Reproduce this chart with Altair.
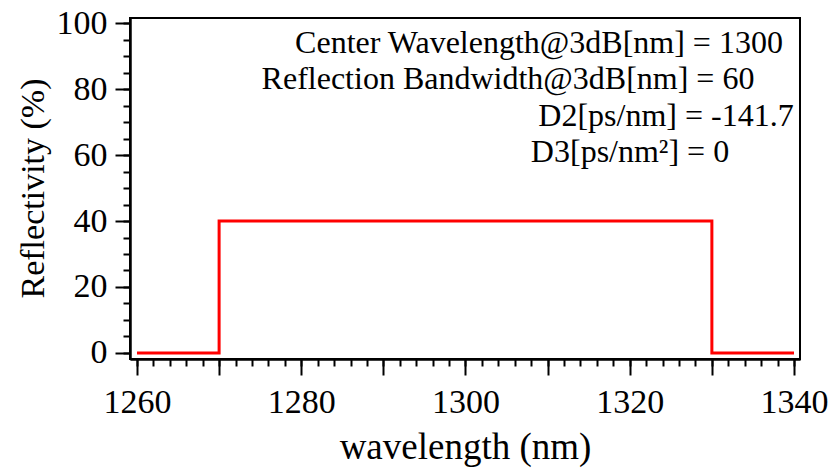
import altair as alt
import pandas as pd

# ---- data ----
wavelength = [1260, 1270, 1270, 1330, 1330, 1340]
reflectivity = [0, 0, 40, 40, 0, 0]

x_major_ticks = [1260, 1270, 1280, 1290, 1300, 1310, 1320, 1330, 1340]
x_minor_ticks = list(range(1260, 1341, 2))
y_major_ticks = [0, 20, 40, 60, 80, 100]
y_minor_ticks = list(range(0, 101, 5))

x_domain = [1259.15, 1340.73]
y_domain = [-1.82, 101.52]

annotation_lines = [
    "Center Wavelength@3dB[nm] = 1300",
    "Reflection Bandwidth@3dB[nm] = 60",
    "D2[ps/nm] = -141.7",
    "D3[ps/nm²] = 0",
]
annotation_x = [409, 378, 536, 500]      # pixel centre of each line in plot
annotation_y = [35, 71, 108, 144]        # pixel baseline of each line in plot

FONT = "Liberation Serif"

df = pd.DataFrame({"wavelength": wavelength,
                   "reflectivity": reflectivity,
                   "idx": list(range(len(wavelength)))})

xscale = alt.Scale(domain=x_domain, nice=False, zero=False)
yscale = alt.Scale(domain=y_domain, nice=False, zero=False)

common_axis = dict(domainColor="black", domainWidth=2, tickColor="black", tickWidth=2,
                   labelColor="black", titleColor="black", grid=False)

main = alt.Chart(df).mark_line(color="#ff0000", strokeWidth=3, strokeJoin="miter").encode(
    x=alt.X("wavelength:Q", scale=xscale,
            axis=alt.Axis(values=x_major_ticks, orient="bottom",
                          labelExpr="datum.value % 20 == 0 ? datum.label : ''",
                          format="d", tickSize=16, labelPadding=10,
                          labelFontSize=34, labelFont=FONT,
                          title="wavelength (nm)", titleFontSize=37, titleFont=FONT,
                          titleFontWeight="normal", titleBaseline="alphabetic",
                          titleX=335, titleY=99, titleAnchor="middle", titleAlign="center",
                          **common_axis)),
    y=alt.Y("reflectivity:Q", scale=yscale,
            axis=alt.Axis(values=y_major_ticks, orient="left", tickSize=15, labelPadding=8,
                          labelFontSize=34, labelFont=FONT,
                          title="Reflectivity (%)", titleFontSize=34, titleFont=FONT,
                          titleFontWeight="normal", titleBaseline="alphabetic",
                          titleAngle=270, titleX=-87, titleY=170, titleAlign="center",
                          **common_axis)),
    order="idx:Q",
)

minor = alt.Chart(df).mark_line(opacity=0).encode(
    x=alt.X("wavelength:Q", scale=xscale,
            axis=alt.Axis(values=x_minor_ticks, orient="bottom", tickSize=7,
                          labels=False, title=None, **common_axis)),
    y=alt.Y("reflectivity:Q", scale=yscale,
            axis=alt.Axis(values=y_minor_ticks, orient="left", tickSize=7,
                          labels=False, title=None, **common_axis)),
    order="idx:Q",
)

texts = []
for line, px, py in zip(annotation_lines, annotation_x, annotation_y):
    texts.append(
        alt.Chart(pd.DataFrame({"t": [line]})).mark_text(
            font=FONT, fontSize=32, align="center", baseline="alphabetic", color="black"
        ).encode(x=alt.value(px), y=alt.value(py), text="t:N")
    )

chart = alt.layer(minor, main, *texts).resolve_axis(
    x="independent", y="independent"
).properties(
    width=670, height=341,
    autosize=alt.AutoSizeParams(type="none"),
    padding={"left": 130, "top": 18, "right": 34, "bottom": 111},
    view=alt.ViewBackground(stroke="black", strokeWidth=2),
)

chart.save("out.html", embed_options={"renderer": "svg", "actions": False})
